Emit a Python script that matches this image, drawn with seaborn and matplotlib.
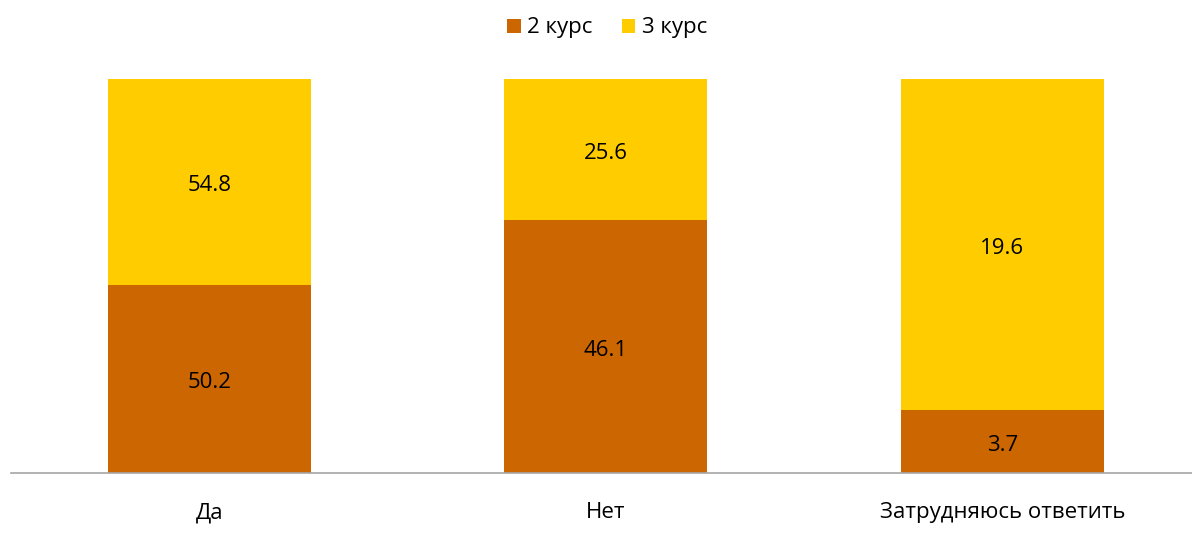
import numpy as np
import pandas as pd
import seaborn as sns
import matplotlib.pyplot as plt

categories = ["Да", "Нет", "Затрудняюсь ответить"]
kurs2 = [50.2, 46.1, 3.7]
kurs3 = [54.8, 25.6, 19.6]

col2 = "#CC6600"
col3 = "#FFCC00"

sns.set_theme(style="white")
plt.rcParams['font.family'] = ['Open Sans', 'DejaVu Sans']

df = pd.DataFrame({"cat": categories, "k2": kurs2, "k3": kurs3})
df["total"] = df["k2"] + df["k3"]
df["s2"] = df["k2"] / df["total"]
df["s_all"] = df["total"] / df["total"]

fig = plt.figure(figsize=(11.92, 5.36), dpi=100)
ax = fig.add_axes([11 / 1192, 63 / 536, 1181 / 1192, 394 / 536])

sns.barplot(data=df, x="cat", y="s_all", color=col3, saturation=1, width=0.512, ax=ax,
            label="3 курс", linewidth=0)
sns.barplot(data=df, x="cat", y="s2", color=col2, saturation=1, width=0.512, ax=ax,
            label="2 курс", linewidth=0)

fs = 16
dy = 4 / 394  # small shift so the numbers sit like the reference
for i, row in df.iterrows():
    ax.text(i, row["s2"] / 2 - dy, f"{row['k2']:.1f}", ha="center", va="center", fontsize=fs, color="black")
    ax.text(i, row["s2"] + (1 - row["s2"]) / 2 - dy, f"{row['k3']:.1f}", ha="center", va="center", fontsize=fs, color="black")

ax.set_xlim(-0.5, -0.5 + 1181 / 396.5)
ax.set_ylim(0, 1)
ax.set_xlabel("")
ax.set_ylabel("")
ax.set_yticks([])
ax.tick_params(axis="x", length=0, pad=21, labelsize=fs, labelcolor="black")
for s in ["top", "right", "left"]:
    ax.spines[s].set_visible(False)
ax.spines["bottom"].set_color("#A6A6A6")
ax.spines["bottom"].set_linewidth(1.2)

handles, labels = ax.get_legend_handles_labels()
if ax.legend_ is not None:
    ax.legend_.remove()
order = [labels.index("2 курс"), labels.index("3 курс")]
leg = fig.legend([handles[i] for i in order], [labels[i] for i in order],
                 loc="center", bbox_to_anchor=(607 / 1192, 1 - 28 / 536), ncol=2, frameon=False,
                 fontsize=fs, handlelength=0.6, handleheight=0.6, handletextpad=0.3, columnspacing=1.3)
for t in leg.get_texts():
    t.set_color("black")

fig.savefig("out.png", dpi=100)
